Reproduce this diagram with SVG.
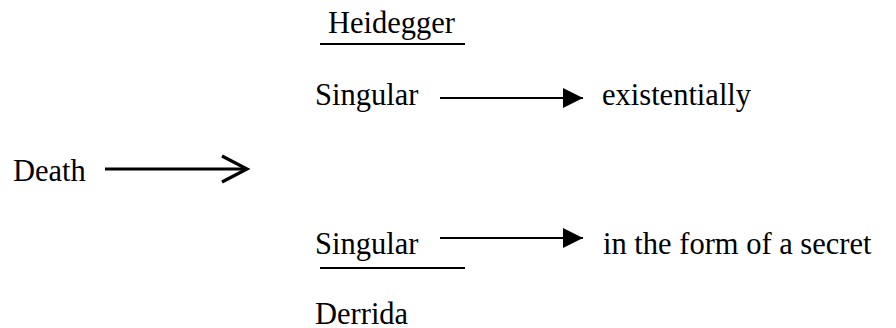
<svg xmlns="http://www.w3.org/2000/svg" width="896" height="328" viewBox="0 0 896 328">
  <style>
    text { font-family: "Liberation Serif", "Times New Roman", serif; font-size: 30.5px; fill: #000; }
    .rule { stroke: #000; stroke-width: 2; }
    .thin { stroke: #000; stroke-width: 2; fill: none; }
    .bold { stroke: #000; stroke-width: 3.2; fill: none; }
  </style>
  <defs>
    <marker id="tri" viewBox="0 0 20 20" refX="20" refY="10" markerUnits="userSpaceOnUse" markerWidth="20" markerHeight="20" orient="auto">
      <path d="M0,0 L20,10 L0,20 Z" fill="#000"/>
    </marker>
  </defs>

  <rect width="896" height="328" fill="#fff"/>

  <g id="heidegger">
    <text x="328" y="33">Heidegger</text>
    <line class="rule" x1="320" y1="44" x2="465" y2="44"/>
  </g>

  <g id="singular-top">
    <text x="315" y="105">Singular</text>
  </g>

  <g id="existentially">
    <text x="602" y="105">existentially</text>
  </g>

  <g id="death">
    <text x="13" y="181">Death</text>
  </g>

  <g id="singular-bottom">
    <text x="315" y="254">Singular</text>
    <line class="rule" x1="320" y1="268" x2="465" y2="268"/>
  </g>

  <g id="secret">
    <text x="603" y="254">in the form of a secret</text>
  </g>

  <g id="derrida">
    <text x="315" y="324">Derrida</text>
  </g>

  <g id="connectors">
    <line class="thin" x1="440" y1="98" x2="583" y2="98" marker-end="url(#tri)"/>
    <line class="thin" x1="440" y1="238" x2="583" y2="238" marker-end="url(#tri)"/>
    <line class="bold" x1="105" y1="169" x2="246" y2="169"/>
    <polyline class="bold" points="222,156 247,169 222,182"/>
  </g>
</svg>
